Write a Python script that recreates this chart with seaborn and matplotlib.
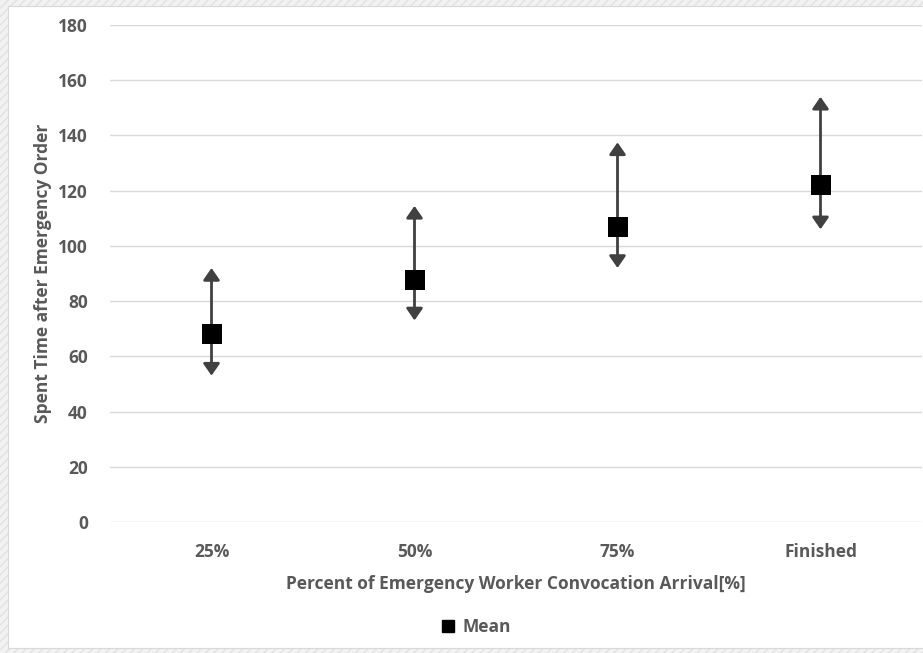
import numpy as np
import pandas as pd
import matplotlib.pyplot as plt
import seaborn as sns
from matplotlib.patches import Rectangle
from matplotlib.lines import Line2D

# values
categories = ["25%", "50%", "75%", "Finished"]
mean_vals = [68, 87.5, 107, 122]
low_vals = [53, 73, 92, 106]
high_vals = [92, 114.5, 137.5, 154]

df = pd.DataFrame({"pos": np.arange(len(categories)), "mean": mean_vals,
                   "low": low_vals, "high": high_vals})

sns.set_style("white")
plt.rcParams['font.family'] = ['Open Sans', 'DejaVu Sans']
grey_txt = "#595959"

fig = plt.figure(figsize=(9.23, 6.53), dpi=100)

# hatched grey frame with white card
fig.add_artist(Rectangle((0, 0), 1, 1, transform=fig.transFigure, facecolor="#f2f2f2",
                         edgecolor="#e2e2e2", hatch="////", lw=0, zorder=-10))
fig.add_artist(Rectangle((8 / 923, 5 / 653), 1, 642 / 653, transform=fig.transFigure,
                         facecolor="white", edgecolor="#d9d9d9", lw=0.8, zorder=-9))

ax = fig.add_axes([110 / 923, 131 / 653, 812 / 923, 497 / 653])
ax.set_facecolor("none")

# error ranges as double arrows
arrow_kw = dict(arrowstyle="-|>,head_length=0.65,head_width=0.45", color="#404040",
                lw=2.0, shrinkA=0, shrinkB=0, mutation_scale=11)
for _, r in df.iterrows():
    ax.annotate("", xy=(r["pos"], r["high"]), xytext=(r["pos"], r["mean"]),
                arrowprops=arrow_kw, zorder=2)
    ax.annotate("", xy=(r["pos"], r["low"]), xytext=(r["pos"], r["mean"]),
                arrowprops=arrow_kw, zorder=2)

sns.scatterplot(data=df, x="pos", y="mean", marker="s", color="black", s=210,
                edgecolor="black", linewidth=0, zorder=3, ax=ax, legend=False)

ax.set_xlim(-0.5, len(categories) - 0.5)
ax.set_ylim(0, 180)
ax.set_yticks(range(0, 181, 20))
ax.set_xticks(df["pos"])
ax.set_xticklabels(categories)
ax.grid(axis="y", color="#d9d9d9", lw=1)
ax.grid(axis="x", visible=False)
for s in ax.spines.values():
    s.set_visible(False)
ax.tick_params(axis="both", length=0, labelsize=12.5, labelcolor=grey_txt)
ax.tick_params(axis="y", pad=16)
ax.tick_params(axis="x", pad=15)
for lab in ax.get_xticklabels() + ax.get_yticklabels():
    lab.set_fontweight("bold")

ax.set_xlabel("Percent of Emergency Worker Convocation Arrival[%]", fontsize=12.5,
              fontweight="bold", color=grey_txt, labelpad=10)
ax.set_ylabel("Spent Time after Emergency Order", fontsize=12.5,
              fontweight="bold", color=grey_txt, labelpad=4)

handle = Line2D([], [], marker="s", color="black", linestyle="none", markersize=9)
fig.legend([handle], ["Mean"], loc="center", bbox_to_anchor=(475 / 923, 1 - 627 / 653),
           frameon=False, handletextpad=0.3, handlelength=1.0,
           prop=dict(size=12.5, weight="bold"), labelcolor=grey_txt)

fig.savefig("out.png", dpi=100)
